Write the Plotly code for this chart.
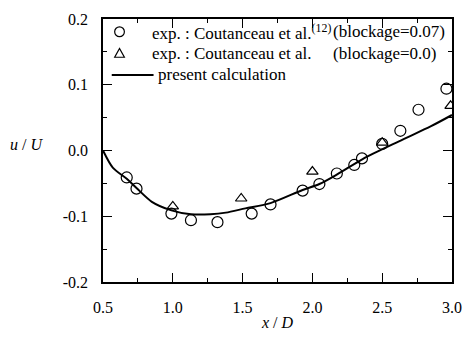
import plotly.graph_objects as go

# experimental data, blockage = 0.07 (circles)
x_exp07 = [0.67, 0.74, 0.99, 1.13, 1.32, 1.565, 1.70, 1.93, 2.05, 2.175, 2.30, 2.355, 2.50, 2.63, 2.76, 2.96]
y_exp07 = [-0.041, -0.058, -0.096, -0.106, -0.109, -0.096, -0.082, -0.061, -0.051, -0.035, -0.022, -0.012, 0.010, 0.030, 0.062, 0.094]

# experimental data, blockage = 0.0 (triangles)
x_exp00 = [1.00, 1.49, 2.00, 2.50, 2.99]
y_exp00 = [-0.085, -0.073, -0.032, 0.012, 0.068]

# present calculation (line)
x_calc = [0.5, 0.57, 0.67, 0.74, 0.85, 0.99, 1.13, 1.27, 1.38, 1.52, 1.70, 1.93, 2.05, 2.18, 2.36, 2.62, 2.85, 3.0]
y_calc = [0.0, -0.026, -0.043, -0.057, -0.078, -0.091, -0.097, -0.097, -0.0945, -0.088, -0.080, -0.060, -0.051, -0.036, -0.013, 0.014, 0.037, 0.054]

x_ticks = [0.5, 1.0, 1.5, 2.0, 2.5, 3.0]
x_ticktext = ["0.5", "1.0", "1.5", "2.0", "2.5", "3.0"]
y_ticks = [-0.2, -0.1, 0.0, 0.1, 0.2]
y_ticktext = ["-0.2", "-0.1", "0.0", "0.1", "0.2"]

legend_main = ["exp. : Coutanceau et al.<sup>(12)</sup>", "exp. : Coutanceau et al.", "present calculation"]
legend_extra = ["(blockage=0.07)", "(blockage=0.0)"]

FONT = "Liberation Serif"
W, H = 473, 339
l, r, t, b = 103, 11, 14, 57
pw, ph = W - l - r, H - t - b


def px(xp):
    return (xp - l) / pw


def py(yp):
    return (H - b - yp) / ph


fig = go.Figure()
fig.add_trace(go.Scatter(x=x_exp07, y=y_exp07, mode="markers", name=legend_main[0],
                         marker=dict(symbol="circle-open", size=11, color="black",
                                     line=dict(width=1.2, color="black"))))
fig.add_trace(go.Scatter(x=x_exp00, y=y_exp00, mode="markers", name=legend_main[1],
                         marker=dict(symbol="triangle-up-open", size=10, color="black",
                                     line=dict(width=1.2, color="black"))))
fig.add_trace(go.Scatter(x=x_calc, y=y_calc, mode="lines", name=legend_main[2],
                         line=dict(color="black", width=2, shape="spline", smoothing=0.8)))

axis_common = dict(showline=True, linecolor="black", linewidth=1.5, mirror="ticks",
                   ticks="inside", ticklen=9, tickwidth=1.2, tickcolor="black",
                   showgrid=False, zeroline=False,
                   tickfont=dict(family=FONT, size=16, color="black"))

# legend drawn manually (symbols as shapes, texts as annotations)
rows_y = [27, 49, 71]
txt = dict(family=FONT, size=17, color="black")
annotations = [
    dict(text=legend_main[0], x=px(151), y=py(rows_y[0]), xanchor="left"),
    dict(text=legend_extra[0], x=px(338), y=py(rows_y[0]), xanchor="left"),
    dict(text=legend_main[1], x=px(151), y=py(rows_y[1]), xanchor="left"),
    dict(text=legend_extra[1], x=px(338), y=py(rows_y[1]), xanchor="left"),
    dict(text=legend_main[2], x=px(158), y=py(rows_y[2]), xanchor="left"),
    dict(text="<i>u</i> / <i>U</i>", x=px(24), y=py(142), xanchor="center"),
    dict(text="<i>x</i> / <i>D</i>", x=px(283), y=py(323), xanchor="center"),
]
for a in annotations:
    a.update(xref="paper", yref="paper", showarrow=False, yanchor="middle", font=txt)
annotations[-2]["font"] = dict(family=FONT, size=16, color="black")
annotations[-1]["font"] = dict(family=FONT, size=16, color="black")

cx = 120
shapes = [
    dict(type="circle", xref="paper", yref="paper",
         x0=px(cx - 5), x1=px(cx + 5), y0=py(rows_y[0] + 5), y1=py(rows_y[0] - 5),
         line=dict(color="black", width=1.2)),
    dict(type="path", xref="paper", yref="paper",
         path=f"M {px(cx-5)} {py(rows_y[1]+4)} L {px(cx+5)} {py(rows_y[1]+4)} L {px(cx)} {py(rows_y[1]-5)} Z",
         line=dict(color="black", width=1.2)),
    dict(type="line", xref="paper", yref="paper",
         x0=px(112), x1=px(155), y0=py(rows_y[2]), y1=py(rows_y[2]),
         line=dict(color="black", width=2)),
]

fig.update_layout(
    width=W, height=H,
    margin=dict(l=l, r=r, t=t, b=b),
    paper_bgcolor="white", plot_bgcolor="white",
    font=dict(family=FONT, color="black"),
    xaxis=dict(range=[0.5, 3.0], tickvals=x_ticks, ticktext=x_ticktext,
               ticklabelstandoff=10,
               minor=dict(dtick=0.25, tick0=0.5, ticks="inside", ticklen=4, tickcolor="black"),
               **axis_common),
    yaxis=dict(range=[-0.2, 0.2], tickvals=y_ticks, ticktext=y_ticktext,
               ticklabelstandoff=10,
               minor=dict(dtick=0.05, tick0=0, ticks="inside", ticklen=4, tickcolor="black"),
               **axis_common),
    showlegend=False,
    annotations=annotations,
    shapes=shapes,
)

fig.write_html("out.html")
